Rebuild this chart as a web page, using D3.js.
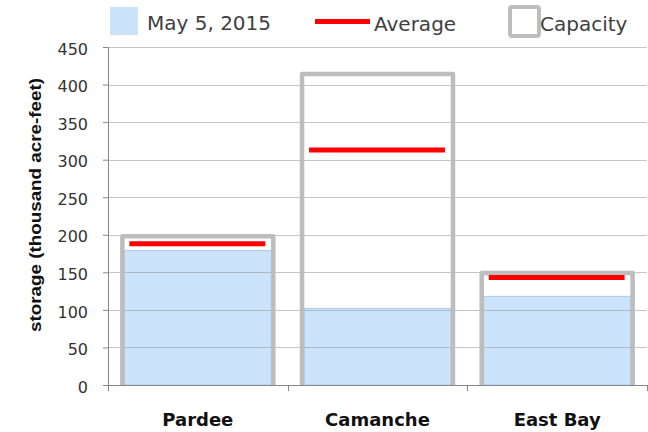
<!DOCTYPE html>
<html>
<head>
<meta charset="utf-8">
<script src="https://cdn.jsdelivr.net/npm/d3@7"></script>
<style>
  body { margin: 0; background: #fff; }
  svg { display: block; }
</style>
</head>
<body>
<div id="wrapper"></div>
<script>
// Data
const categories = ['Pardee', 'Camanche', 'East Bay'];
const may2015 = [179, 102, 118];
const average = [188, 313, 143];
const capacity = [198, 414, 149];
const yTicks = [0, 50, 100, 150, 200, 250, 300, 350, 400, 450];

const dimensions = {
  width: 648,
  height: 432,
  margin: { top: 47, right: 1, bottom: 47, left: 108 },
};
dimensions.boundedWidth =
  dimensions.width - dimensions.margin.left - dimensions.margin.right;
dimensions.boundedHeight =
  dimensions.height - dimensions.margin.top - dimensions.margin.bottom;

const data = categories.map((c, i) => ({
  name: c,
  now: may2015[i],
  avg: average[i],
  cap: capacity[i],
}));

// Scales
const xScale = d3
  .scaleBand()
  .domain(categories)
  .range([0, dimensions.boundedWidth])
  .paddingInner(0.16)
  .paddingOuter(0.08);

const yScale = d3
  .scaleLinear()
  .domain([0, 450])
  .range([dimensions.boundedHeight, 0]);

// Canvas
const svg = d3
  .select('#wrapper')
  .append('svg')
  .attr('width', dimensions.width)
  .attr('height', dimensions.height);

const bounds = svg
  .append('g')
  .attr('transform', `translate(${dimensions.margin.left}, ${dimensions.margin.top})`);

// storage bars
bounds
  .selectAll('rect.now')
  .data(data)
  .enter()
  .append('rect')
  .attr('class', 'now')
  .attr('x', (d) => xScale(d.name) + 2)
  .attr('width', xScale.bandwidth() - 4)
  .attr('y', (d) => yScale(d.now))
  .attr('height', (d) => yScale(0) - yScale(d.now))
  .attr('fill', '#cce4fb')
  .attr('stroke', '#a9cbee')
  .attr('stroke-width', 1);

// gridlines
bounds
  .selectAll('line.grid')
  .data(yTicks.slice(1))
  .enter()
  .append('line')
  .attr('class', 'grid')
  .attr('x1', 0)
  .attr('x2', dimensions.boundedWidth)
  .attr('y1', (d) => Math.round(yScale(d)) + 0.5)
  .attr('y2', (d) => Math.round(yScale(d)) + 0.5)
  .attr('stroke', '#8c8c8c')
  .attr('stroke-opacity', 0.5);

// capacity outlines (open at the bottom)
bounds
  .selectAll('path.cap')
  .data(data)
  .enter()
  .append('path')
  .attr('class', 'cap')
  .attr('d', (d) => {
    const x0 = xScale(d.name);
    const x1 = x0 + xScale.bandwidth();
    const y0 = yScale(0);
    const y1 = yScale(d.cap);
    return `M${x0},${y0}V${y1}H${x1}V${y0}`;
  })
  .attr('fill', 'none')
  .attr('stroke', '#bdbdbd')
  .attr('stroke-width', 4.5)
  .attr('stroke-linejoin', 'round');

// average lines
bounds
  .selectAll('line.avg')
  .data(data)
  .enter()
  .append('line')
  .attr('class', 'avg')
  .attr('x1', (d) => xScale(d.name) + 7)
  .attr('x2', (d) => xScale(d.name) + xScale.bandwidth() - 8)
  .attr('y1', (d) => yScale(d.avg))
  .attr('y2', (d) => yScale(d.avg))
  .attr('stroke', '#ff0000')
  .attr('stroke-width', 5);

// Axes
const yAxis = d3.axisLeft(yScale).tickValues(yTicks).tickSize(5).tickPadding(15);
const yAxisG = bounds.append('g').call(yAxis);
yAxisG.select('.domain').attr('stroke', '#868686');
yAxisG.selectAll('.tick line').attr('stroke', '#868686');
yAxisG
  .selectAll('.tick text')
  .attr('fill', '#333')
  .attr('dy', '0.45em')
  .style('font-family', 'DejaVu Sans')
  .style('font-size', '16px');

const xAxisG = bounds
  .append('g')
  .attr('transform', `translate(0, ${dimensions.boundedHeight})`);
xAxisG
  .append('line')
  .attr('x1', 0)
  .attr('x2', dimensions.boundedWidth)
  .attr('y1', 0.5)
  .attr('y2', 0.5)
  .attr('stroke', '#868686');
xAxisG
  .selectAll('line.sep')
  .data(d3.range(categories.length + 1))
  .enter()
  .append('line')
  .attr('class', 'sep')
  .attr('x1', (i) => Math.round(xScale.step() * i) + 0.5)
  .attr('x2', (i) => Math.round(xScale.step() * i) + 0.5)
  .attr('y1', 0)
  .attr('y2', 6)
  .attr('stroke', '#868686');
xAxisG
  .selectAll('text')
  .data(categories)
  .enter()
  .append('text')
  .attr('x', (d) => xScale(d) + xScale.bandwidth() / 2)
  .attr('y', 41)
  .attr('text-anchor', 'middle')
  .attr('fill', '#111')
  .style('font-family', 'DejaVu Sans')
  .style('font-weight', 'bold')
  .style('font-size', '18px')
  .text((d) => d);

// y axis label
svg
  .append('text')
  .attr('transform', 'translate(41, 205) rotate(-90)')
  .attr('text-anchor', 'middle')
  .attr('fill', '#111')
  .attr('textLength', 254)
  .attr('lengthAdjust', 'spacingAndGlyphs')
  .style('font-family', 'Liberation Sans')
  .style('font-weight', 'bold')
  .style('font-size', '16.5px')
  .text('storage (thousand acre-feet)');

// Legend
const legend = svg.append('g').attr('id', 'legend');
const legendFont = (sel) =>
  sel
    .attr('fill', '#404040')
    .style('font-family', 'DejaVu Sans')
    .style('font-size', '20px');

legend
  .append('rect')
  .attr('x', 110)
  .attr('y', 7)
  .attr('width', 28)
  .attr('height', 28)
  .attr('fill', '#cce4fb');
legend.append('text').attr('x', 147).attr('y', 30).text('May 5, 2015').call(legendFont);

legend
  .append('line')
  .attr('x1', 315)
  .attr('x2', 370)
  .attr('y1', 21.5)
  .attr('y2', 21.5)
  .attr('stroke', '#ff0000')
  .attr('stroke-width', 5);
legend.append('text').attr('x', 374).attr('y', 31).text('Average').call(legendFont);

legend
  .append('rect')
  .attr('x', 510)
  .attr('y', 7)
  .attr('width', 29)
  .attr('height', 29)
  .attr('rx', 2)
  .attr('fill', 'none')
  .attr('stroke', '#bdbdbd')
  .attr('stroke-width', 4);
legend.append('text').attr('x', 540).attr('y', 31).text('Capacity').call(legendFont);
</script>
</body>
</html>
